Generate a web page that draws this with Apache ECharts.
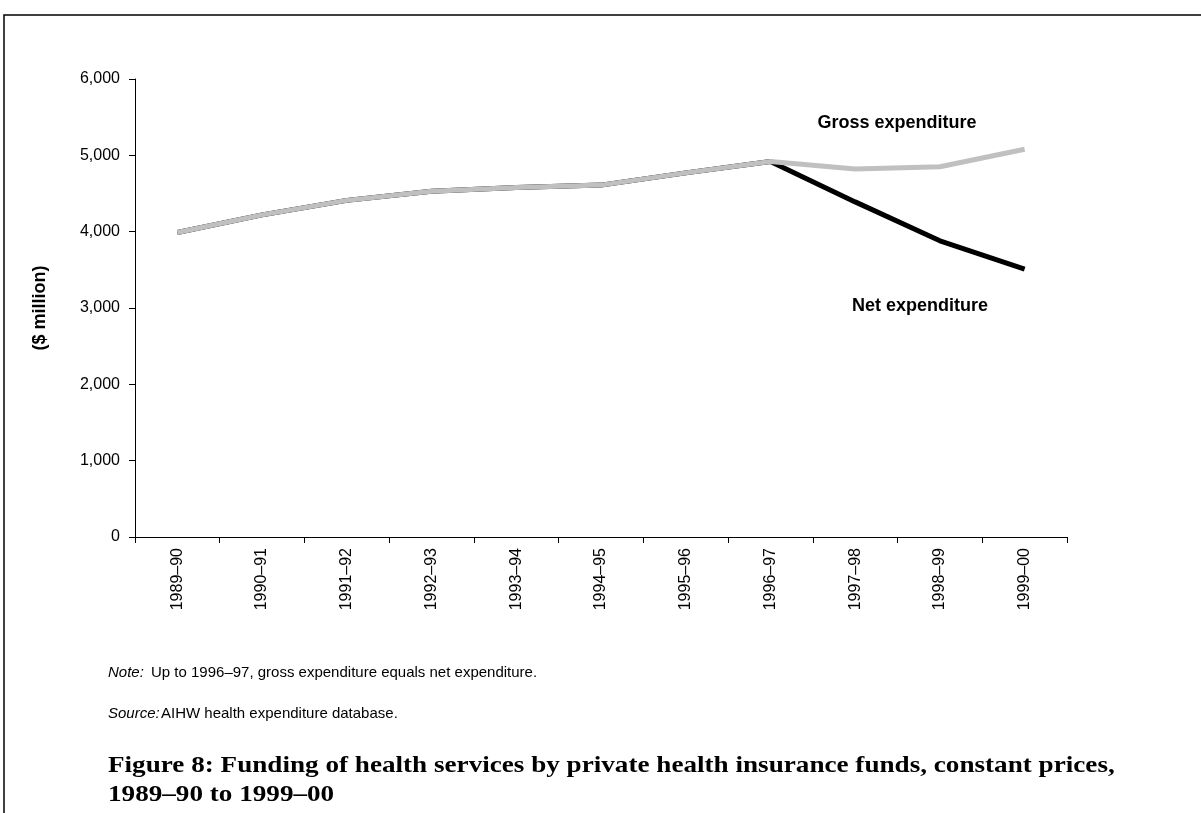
<!DOCTYPE html>
<html><head><meta charset="utf-8">
<script src="https://cdn.jsdelivr.net/npm/echarts@6/dist/echarts.min.js"></script>
<style>html,body{margin:0;padding:0;background:#fff}#c{width:1201px;height:813px}</style>
</head><body><div id="c"></div>
<script>
const categories = ['1989–90','1990–91','1991–92','1992–93','1993–94','1994–95','1995–96','1996–97','1997–98','1998–99','1999–00'];
const grossExpenditure = [3990, 4220, 4410, 4530, 4580, 4610, 4770, 4920, 4820, 4850, 5080];
const netExpenditure = [3990, 4220, 4410, 4530, 4580, 4610, 4770, 4920, 4390, 3880, 3510];
const yTicks = [0, 1000, 2000, 3000, 4000, 5000, 6000];

const chart = echarts.init(document.getElementById('c'));
const F = 'Liberation Sans, Arial, sans-serif';
const TF = 'bold 23px Liberation Serif, serif';
chart.setOption({
  animation: false,
  grid: {left: 135, right: 134, top: 79, bottom: 276},
  xAxis: {
    type: 'category', data: categories, boundaryGap: true,
    axisLine: {lineStyle: {color: '#000', width: 1}},
    axisTick: {show: true, length: 6, lineStyle: {color: '#000'}},
    axisLabel: {rotate: 90, color: '#000', fontFamily: F, fontSize: 16, margin: 11}
  },
  yAxis: {
    type: 'value', min: yTicks[0], max: yTicks[yTicks.length-1], interval: 1000,
    axisLine: {show: true, lineStyle: {color: '#000', width: 1}},
    axisTick: {show: true, length: 6, lineStyle: {color: '#000'}},
    splitLine: {show: false},
    axisLabel: {color: '#000', fontFamily: F, fontSize: 16, margin: 15,
      formatter: v => v.toLocaleString('en-US')},
    name: '($ million)', nameLocation: 'middle', nameGap: 86, nameRotate: 90,
    nameTextStyle: {color: '#000', fontFamily: F, fontSize: 18, fontWeight: 'bold'}
  },
  series: [
    {name: 'Net expenditure', type: 'line', data: netExpenditure, symbol: 'none', z: 2,
     lineStyle: {color: '#000', width: 5}},
    {name: 'Gross expenditure', type: 'line', data: grossExpenditure, symbol: 'none', z: 3,
     lineStyle: {color: '#c0c0c0', width: 5}}
  ],
  graphic: [
    {type: 'polyline', shape: {points: [[4, 813], [4, 15], [1201, 15]]}, style: {stroke: '#000', lineWidth: 1.5, fill: null}},
    {type: 'text', x: 897, y: 123, style: {text: 'Gross expenditure', font: 'bold 18px ' + F, fill: '#000', textAlign: 'center', textVerticalAlign: 'middle'}},
    {type: 'text', x: 920, y: 306, style: {text: 'Net expenditure', font: 'bold 18px ' + F, fill: '#000', textAlign: 'center', textVerticalAlign: 'middle'}},
    {type: 'text', left: 108, top: 665, style: {text: 'Note:', font: 'italic 15px ' + F, fill: '#000'}},
    {type: 'text', left: 151, top: 665, style: {text: 'Up to 1996–97, gross expenditure equals net expenditure.', font: '15px ' + F, fill: '#000'}},
    {type: 'text', left: 108, top: 706, style: {text: 'Source:', font: 'italic 15px ' + F, fill: '#000'}},
    {type: 'text', left: 161, top: 706, style: {text: 'AIHW health expenditure database.', font: '15px ' + F, fill: '#000'}},
    {type: 'text', x: 108, y: 755, scaleX: 1.18, style: {text: 'Figure 8: Funding of health services by private health insurance funds, constant prices,', font: TF, fill: '#000', textVerticalAlign: 'top'}},
    {type: 'text', x: 108, y: 784, scaleX: 1.18, style: {text: '1989–90 to 1999–00', font: TF, fill: '#000', textVerticalAlign: 'top'}}
  ]
});
</script></body></html>
